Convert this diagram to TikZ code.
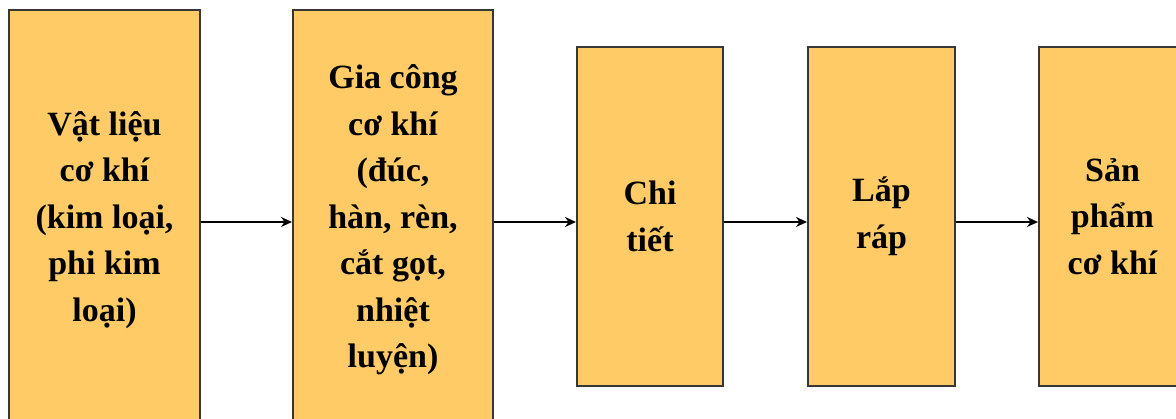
\documentclass[tikz,border=0pt]{standalone}
\usepackage{fontspec}
\setmainfont{Liberation Serif}
\usetikzlibrary{arrows.meta}
\definecolor{boxfill}{RGB}{254,203,102}
\definecolor{boxline}{RGB}{55,55,55}
\tikzset{
  stepbox/.style={draw=boxline, line width=2pt, fill=boxfill, align=center,
    font=\fontsize{34}{46.5}\selectfont\bfseries, inner sep=0pt},
  flow/.style={line width=2.6pt, -{Stealth[length=11pt,width=10pt]}}
}
\begin{document}
\begin{tikzpicture}[x=1pt,y=1pt]
\useasboundingbox (0,0) rectangle (1176,419);
\clip (0,0) rectangle (1176,419);
\fill[white] (0,0) rectangle (1176,419);
\node[stepbox, minimum width=191pt, minimum height=420pt] (b1) at (104.5,199)
  {Vật liệu\\cơ khí\\(kim loại,\\phi kim\\loại)};
\node[stepbox, minimum width=200pt, minimum height=420pt] (b2) at (393,199)
  {Gia công\\cơ khí\\(đúc,\\hàn, rèn,\\cắt gọt,\\nhiệt\\luyện)};
\node[stepbox, minimum width=146pt, minimum height=339pt] (b3) at (650,202.5)
  {Chi\\tiết};
\node[stepbox, minimum width=147pt, minimum height=339pt] (b4) at (881.5,202.5)
  {Lắp\\ráp};
\node[stepbox, minimum width=147pt, minimum height=339pt] (b5) at (1112.5,202.5)
  {Sản\\phẩm\\cơ khí};
\coordinate (ay) at (0,197);
\draw[flow] (b1.east |- ay) -- (b2.west |- ay);
\draw[flow] (b2.east |- ay) -- (b3.west |- ay);
\draw[flow] (b3.east |- ay) -- (b4.west |- ay);
\draw[flow] (b4.east |- ay) -- (b5.west |- ay);
\end{tikzpicture}
\end{document}
